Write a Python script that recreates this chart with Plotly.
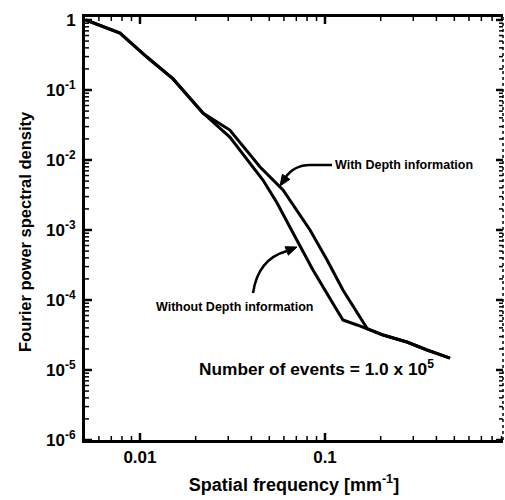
import math
import plotly.graph_objects as go

# Fourier power spectral density vs spatial frequency (mm^-1)
freq_with = [0.0051, 0.0078, 0.0109, 0.0151, 0.0219, 0.0306, 0.0446, 0.0593,
             0.0830, 0.1026, 0.125, 0.149, 0.169, 0.206, 0.277, 0.356, 0.474]
psd_with = [1.0, 0.652, 0.296, 0.144, 0.0469, 0.0268, 0.00794, 0.00373,
            0.001, 3.73e-4, 1.39e-4, 6.52e-5, 3.9e-5, 3.16e-5, 2.51e-5, 1.93e-5, 1.48e-5]

freq_without = [0.0051, 0.0078, 0.0109, 0.0151, 0.0219, 0.0306, 0.0462, 0.0551,
                0.0672, 0.0861, 0.110, 0.125, 0.149, 0.169, 0.206, 0.277, 0.356, 0.474]
psd_without = [1.0, 0.652, 0.296, 0.144, 0.0469, 0.0213, 0.00518, 0.00243,
               9.06e-4, 2.68e-4, 9.06e-5, 5.18e-5, 4.40e-5, 3.9e-5, 3.16e-5, 2.51e-5, 1.93e-5, 1.48e-5]

x_tick_vals = [0.01, 0.1]
x_tick_text = ["<b>0.01</b>", "<b>0.1</b>"]
y_tick_vals = [1, 1e-1, 1e-2, 1e-3, 1e-4, 1e-5, 1e-6]
y_tick_text = ["<b>1</b>", "<b>10<sup>-1</sup></b>", "<b>10<sup>-2</sup></b>",
               "<b>10<sup>-3</sup></b>", "<b>10<sup>-4</sup></b>",
               "<b>10<sup>-5</sup></b>", "<b>10<sup>-6</sup></b>"]

W, H = 505, 500
ML, MR, MT, MB = 85, 2, 17, 60
FONT = "Liberation Sans"
X_RANGE = [-2.297, -0.038]
Y_RANGE = [-6.0, 0.043]
X_PX_PER_DEC = (W - ML - MR) / (X_RANGE[1] - X_RANGE[0])
Y_PX_PER_DEC = (H - MT - MB) / (Y_RANGE[1] - Y_RANGE[0])


def paper(px, py):
    """Pixel position in the page -> paper coordinates of the plot area."""
    return (px - ML) / (W - ML - MR), (H - MB - py) / (H - MT - MB)


def minor_ticks(lo, hi, rng):
    vals = [m * 10 ** e for e in range(lo, hi) for m in range(2, 10)]
    return [v for v in vals if rng[0] < math.log10(v) < rng[1]]


def tick_trace(xvals, yvals, length, width):
    """Inward tick marks on all four frame edges, drawn as short log-axis segments."""
    xs, ys = [], []
    dy = length / Y_PX_PER_DEC
    dx = length / X_PX_PER_DEC
    y_lo, y_hi = 10 ** Y_RANGE[0], 10 ** Y_RANGE[1]
    x_lo, x_hi = 10 ** X_RANGE[0], 10 ** X_RANGE[1]
    for v in xvals:
        xs += [v, v, None, v, v, None]
        ys += [y_lo, y_lo * 10 ** dy, None, y_hi, y_hi / 10 ** dy, None]
    for v in yvals:
        xs += [x_lo, x_lo * 10 ** dx, None, x_hi, x_hi / 10 ** dx, None]
        ys += [v, v, None, v, v, None]
    return go.Scatter(x=xs, y=ys, mode="lines", line=dict(color="black", width=width),
                      hoverinfo="skip", showlegend=False)


fig = go.Figure()
for fx, fy, name in [(freq_with, psd_with, "With Depth information"),
                     (freq_without, psd_without, "Without Depth information")]:
    fig.add_trace(go.Scatter(x=fx, y=fy, mode="lines", name=name,
                             line=dict(color="black", width=3)))

fig.add_trace(tick_trace(x_tick_vals, y_tick_vals, 7, 2.5))
fig.add_trace(tick_trace(minor_ticks(-3, 0, X_RANGE), minor_ticks(-6, 0, Y_RANGE), 4, 1.5))

tick_font = dict(family=FONT, size=17, color="black")
fig.update_layout(
    xaxis=dict(type="log", range=X_RANGE, showgrid=False, zeroline=False,
               showline=True, linecolor="black", linewidth=3, mirror=True, ticks="",
               tickmode="array", tickvals=x_tick_vals, ticktext=x_tick_text,
               tickfont=tick_font,
               title=dict(text="<b>Spatial frequency [mm<sup>-1</sup>]</b>", standoff=12,
                          font=dict(family=FONT, size=18, color="black"))),
    yaxis=dict(type="log", range=Y_RANGE, showgrid=False, zeroline=False,
               showline=True, linecolor="black", linewidth=3, mirror=False, ticks="",
               ticklabelstandoff=3,
               tickmode="array", tickvals=y_tick_vals, ticktext=y_tick_text,
               tickfont=tick_font),
)

label_font = dict(family=FONT, size=12.5, color="black")
anns = []
tx, ty = paper(25, 232)
anns.append(dict(x=tx, y=ty, xref="paper", yref="paper",
                 text="<b>Fourier power spectral density</b>", textangle=-90,
                 showarrow=False, xanchor="center", yanchor="middle",
                 font=dict(family=FONT, size=16.5, color="black")))
x0, y0 = paper(333, 165)
anns.append(dict(x=x0, y=y0, xref="paper", yref="paper", text="<b>With Depth information</b>",
                 showarrow=False, xanchor="left", yanchor="middle", font=label_font))
x0, y0 = paper(154, 307)
anns.append(dict(x=x0, y=y0, xref="paper", yref="paper", text="<b>Without Depth information</b>",
                 showarrow=False, xanchor="left", yanchor="middle", font=label_font))
x0, y0 = paper(197, 368)
anns.append(dict(x=x0, y=y0, xref="paper", yref="paper",
                 text="<b>Number of events = 1.0 x 10<sup>5</sup></b>",
                 showarrow=False, xanchor="left", yanchor="middle",
                 font=dict(family=FONT, size=17.3, color="black")))


def curve_path(p0, c, p1):
    a, b, d = paper(*p0), paper(*c), paper(*p1)
    return f"M {a[0]},{a[1]} Q {b[0]},{b[1]} {d[0]},{d[1]}"


def arrow_head(tip, back, half=4.5):
    """Filled triangle whose point sits at tip, pointing away from back."""
    tx, ty = tip
    bx, by = back
    dx, dy = tx - bx, ty - by
    n = (dx * dx + dy * dy) ** 0.5
    ux, uy = dx / n, dy / n
    length = 11
    cx, cy = tx - ux * length, ty - uy * length
    p1 = paper(cx - uy * half, cy + ux * half)
    p2 = paper(cx + uy * half, cy - ux * half)
    t = paper(tx, ty)
    return f"M {t[0]},{t[1]} L {p1[0]},{p1[1]} L {p2[0]},{p2[1]} Z"


shapes = [
    # thin right-hand frame edge
    dict(type="line", xref="paper", yref="paper", x0=1, x1=1, y0=0, y1=1,
         line=dict(color="black", width=1.5, dash="dot")),
    dict(type="line", xref="paper", yref="paper",
         x0=paper(332, 165)[0], y0=paper(332, 165)[1],
         x1=paper(310, 165)[0], y1=paper(310, 165)[1],
         line=dict(color="black", width=2.5)),
    dict(type="path", xref="paper", yref="paper",
         path=curve_path((310, 165), (294, 165), (285, 178)),
         line=dict(color="black", width=2.5)),
    dict(type="path", xref="paper", yref="paper", path=arrow_head((280, 186), (288, 174)),
         fillcolor="black", line=dict(color="black", width=1)),
    dict(type="path", xref="paper", yref="paper",
         path=curve_path((253, 293), (258, 259), (287, 251)),
         line=dict(color="black", width=2.5)),
    dict(type="path", xref="paper", yref="paper", path=arrow_head((297, 247), (284, 252)),
         fillcolor="black", line=dict(color="black", width=1)),
]

fig.update_layout(
    width=W, height=H, margin=dict(l=ML, r=MR, t=MT, b=MB),
    plot_bgcolor="white", paper_bgcolor="white", showlegend=False,
    annotations=anns, shapes=shapes,
)

fig.write_html("out.html")
